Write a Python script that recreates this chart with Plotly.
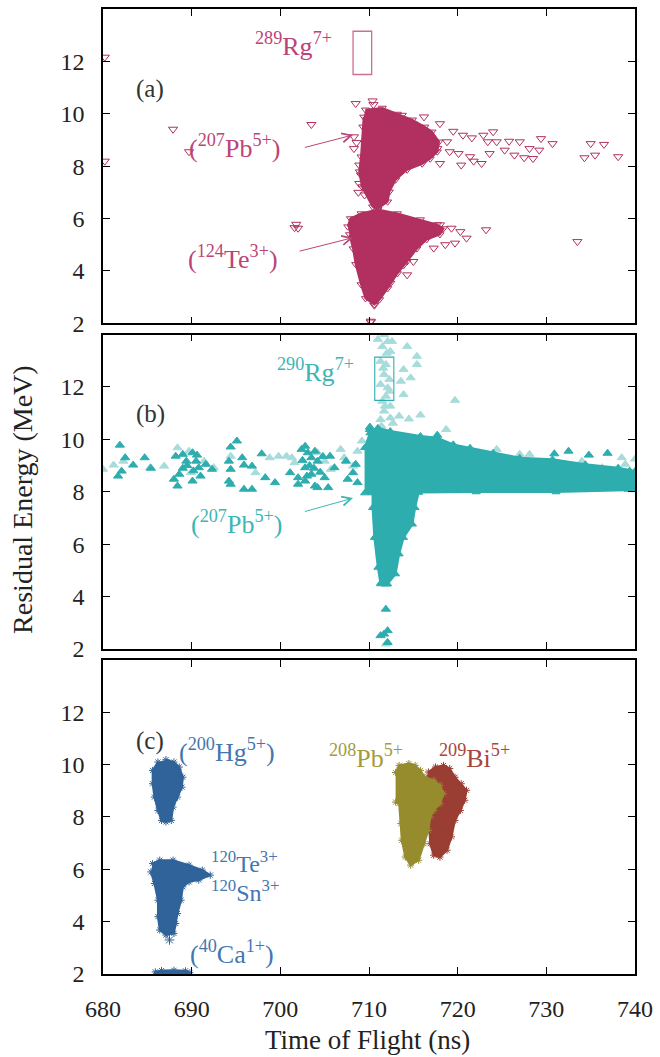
import plotly.graph_objects as go

# ---------------- data ----------------
x_ticks = [680, 690, 700, 710, 720, 730, 740]
y_ticks = [2, 4, 6, 8, 10, 12]

# Panel (a): 207Pb5+ dense cloud outline
a_pb_x = [709.6, 711.5, 713.2, 714.9, 716.3, 717.1, 717.9, 717.7, 716.9, 716.0, 714.3, 713.0,
          712.3, 712.1, 711.0, 710.4, 709.2, 708.9, 709.1, 709.3, 709.4]
a_pb_y = [10.15, 10.22, 9.99, 9.77, 9.50, 9.31, 8.93, 8.55, 8.28, 8.09, 7.86, 7.48,
          7.02, 6.64, 6.38, 6.45, 7.22, 7.79, 8.36, 9.50, 9.88]
# Panel (a): 124Te3+ dense cloud outline
a_te_x = [707.6, 707.9, 709.1, 711.0, 713.2, 715.8, 717.7, 718.4, 718.0, 716.5, 715.4, 714.3,
          713.2, 712.1, 711.2, 710.6, 709.6, 709.1, 708.5, 708.2, 707.8]
a_te_y = [5.69, 6.00, 6.19, 6.34, 6.19, 5.96, 5.77, 5.62, 5.39, 5.20, 4.85, 4.36,
          3.90, 3.33, 2.91, 2.72, 2.95, 3.48, 4.25, 4.85, 5.39]
# Panel (a): individual events
a_out_x = [680.2, 680.2, 687.9, 689.7, 703.5, 701.8, 702.0, 701.6, 708.5, 710.4, 710.5, 710.2,
           708.3, 708.3, 708.9, 709.1, 708.9, 709.5, 708.6, 708.8, 713.7, 716.2, 718.0, 719.5,
           720.6, 721.6, 724.0, 722.9, 723.4, 724.4, 725.8, 727.0, 728.1, 729.4, 730.7, 729.2,
           728.5, 727.5, 726.4, 725.3, 723.6, 722.7, 721.8, 720.4, 721.4, 720.1, 719.1, 718.0,
           718.8, 717.7, 717.1, 735.0, 736.5, 735.5, 734.3, 738.1, 718.0, 719.3, 720.3, 721.0,
           719.7, 718.6, 717.3, 723.2, 733.5, 715.0, 714.3, 712.4, 713.9, 710.6, 710.2]
a_out_y = [12.16, 8.19, 9.41, 8.55, 9.59, 5.78, 5.63, 5.65, 10.39, 10.49, 10.35, 2.08,
           9.12, 8.67, 8.04, 7.66, 7.34, 6.90, 8.90, 7.00, 9.94, 9.88, 9.62, 9.33,
           9.18, 9.08, 9.31, 9.18, 8.93, 8.93, 8.95, 8.93, 8.67, 9.05, 8.86, 8.61,
           8.29, 8.32, 8.42, 8.61, 8.48, 8.10, 8.19, 8.04, 8.36, 8.48, 8.55, 8.10,
           8.93, 8.67, 8.48, 8.86, 8.83, 8.42, 8.32, 8.36, 5.76, 5.63, 5.50, 5.25,
           5.06, 5.00, 4.87, 5.57, 5.12, 4.36, 3.85, 3.53, 4.23, 2.69, 2.05]
a_rg_box = [708.2, 710.3, 11.5, 13.15]

# Panel (b): 207Pb5+ dense band + stem outline
b_pb_x = [709.5, 710.1, 711.0, 712.4, 715.8, 717.7, 719.5, 721.4, 724.0, 727.0, 730.7, 734.4,
          738.1, 740.0, 740.0, 731.1, 722.1, 715.6, 715.2, 714.9, 713.9, 713.4, 713.0, 712.1,
          711.3, 711.0, 710.6, 710.4, 710.4, 709.5]
b_pb_y = [9.68, 10.24, 10.44, 10.32, 10.13, 10.06, 9.81, 9.68, 9.49, 9.30, 9.24, 9.05,
          8.92, 8.79, 8.07, 7.99, 7.99, 7.97, 7.39, 6.76, 6.25, 5.62, 4.86, 4.48,
          4.48, 5.11, 6.25, 7.39, 7.95, 7.95]
# Panel (b): dark events
b_dark_x = [681.9, 682.5, 683.4, 682.1, 681.7, 684.7, 685.4, 688.2, 689.0, 689.4, 690.1, 690.5,
            690.8, 691.0, 690.1, 688.4, 688.0, 688.6, 691.6, 692.3, 695.1, 694.4, 694.2, 694.4,
            695.7, 695.9, 694.2, 694.4, 695.9, 696.8, 696.8, 697.9, 698.3, 699.4, 701.1, 702.0,
            702.4, 702.8, 703.1, 703.5, 703.9, 704.2, 702.8, 703.5, 702.8, 703.9, 705.0, 705.4,
            705.6, 706.1, 707.4, 707.6, 708.2, 708.7, 708.5, 710.1, 702.0, 704.2, 703.3, 703.8,
            704.5, 702.5, 703.0, 704.8, 689.5, 690.2, 689.0, 690.6, 711.9, 711.7, 712.1, 711.3,
            712.1, 711.9, 711.4, 732.5, 730.9, 734.8, 736.9, 739.4, 738.1, 739.3, 737.8, 736.3,
            733.3, 730.7, 728.8, 739.3, 735.2, 717.7, 710.1]
b_dark_y = [9.78, 9.30, 9.02, 8.79, 8.60, 9.30, 8.90, 9.36, 9.43, 9.17, 9.49, 9.17,
            8.92, 8.60, 8.41, 8.22, 8.48, 8.67, 9.05, 8.86, 9.94, 9.71, 9.17, 8.86,
            9.30, 9.02, 8.41, 8.29, 8.10, 8.10, 8.98, 9.45, 8.54, 8.35, 8.73, 8.54,
            9.62, 9.74, 9.49, 9.30, 9.55, 9.17, 8.92, 8.67, 8.41, 8.22, 8.54, 8.16,
            9.36, 8.92, 9.17, 8.48, 8.73, 8.35, 9.05, 10.38, 8.29, 8.16, 9.00, 8.90,
            8.75, 9.20, 8.60, 9.35, 9.00, 8.80, 8.90, 9.40, 3.52, 2.57, 2.70, 2.51,
            2.25, 4.48, 4.53, 9.55, 9.45, 9.40, 9.47, 8.79, 8.67, 8.41, 8.54, 8.54,
            8.29, 8.16, 8.10, 8.10, 8.29, 10.16, 10.47]
# Panel (b): light events (other runs)
b_light_x = [711.7, 712.1, 711.5, 712.4, 711.3, 711.9, 711.7, 712.3, 711.3, 712.1, 711.9, 711.5,
             712.4, 711.7, 712.4, 711.3, 714.3, 715.4, 715.4, 713.9, 714.7, 713.6, 713.9, 719.7,
             715.8, 714.5, 713.4, 718.7, 711.9, 711.0, 712.6, 712.0, 711.6, 712.3, 711.8, 711.4,
             712.7, 724.4, 727.0, 728.1, 734.0, 735.2, 738.5, 738.9, 736.3, 740.0, 680.0, 681.2,
             682.3, 685.3, 686.9, 688.4, 689.7, 689.9, 691.4, 692.5, 694.4, 697.2, 698.8, 699.8,
             700.7, 701.3, 701.6, 704.2, 705.0, 706.8, 707.2, 708.2, 705.7, 708.7, 709.2]
b_light_y = [14.0, 13.74, 13.54, 13.36, 12.98, 12.86, 12.48, 12.29, 12.10, 11.97, 11.65, 11.46,
             11.27, 11.08, 10.82, 10.76, 13.55, 13.17, 12.86, 12.67, 12.35, 12.22, 11.71, 11.49,
             10.93, 10.78, 10.89, 10.38, 2.19, 13.82, 13.74, 13.29, 12.72, 11.84, 11.27, 10.51,
             10.62, 9.62, 9.43, 9.43, 9.17, 8.60, 9.30, 9.05, 8.92, 9.25, 8.86, 9.02,
             9.17, 8.92, 8.98, 9.68, 9.55, 8.73, 9.17, 8.92, 9.36, 8.73, 9.30, 9.36,
             9.36, 9.30, 9.11, 9.49, 9.17, 9.62, 9.30, 8.98, 8.86, 9.55, 9.94]
b_rg_box = [710.65, 712.8, 11.49, 13.14]

# Panel (c): calibration reactions
c_hg_x = [687.1, 688.0, 688.6, 689.0, 688.9, 688.4, 687.9, 687.7, 687.1, 686.6, 686.2, 685.8,
          685.6, 685.6, 686.2]
c_hg_y = [10.19, 10.10, 9.91, 9.52, 9.14, 8.76, 8.38, 7.87, 7.81, 7.87, 8.25, 8.76,
          9.27, 9.78, 10.10]
c_tesn_x = [685.6, 686.4, 687.9, 689.7, 691.2, 692.1, 690.8, 689.7, 689.0, 688.8, 688.4, 688.2,
            688.0, 687.1, 686.4, 686.2, 686.2, 685.8, 685.4]
c_tesn_y = [6.22, 6.35, 6.35, 6.16, 5.97, 5.78, 5.59, 5.52, 5.33, 4.82, 4.31, 3.93,
            3.55, 3.49, 3.68, 4.19, 4.82, 5.46, 5.90]
c_tesn_extra_x = [687.5]
c_tesn_extra_y = [3.30]
c_ca_x = [685.8, 685.9, 686.6, 688.0, 689.3, 689.8, 689.7]
c_ca_y = [1.90, 2.08, 2.13, 2.14, 2.12, 2.05, 1.90]
c_pb_x = [713.0, 713.4, 714.5, 715.2, 715.8, 716.3, 717.3, 718.0, 718.4, 718.0, 717.3, 716.9,
          716.7, 716.2, 715.6, 714.7, 714.1, 713.7, 713.6, 713.4, 713.0]
c_pb_y = [9.70, 9.97, 10.04, 9.97, 9.78, 9.52, 9.40, 9.21, 8.89, 8.51, 8.25, 8.00,
          7.49, 6.98, 6.35, 6.16, 6.47, 7.11, 7.75, 8.52, 8.57]
c_bi_x = [716.7, 717.5, 718.4, 719.1, 719.7, 720.4, 721.0, 720.8, 720.3, 719.7, 719.3, 718.8,
          718.0, 717.3, 716.9, 716.8, 716.9, 716.5, 716.3]
c_bi_y = [9.72, 9.91, 9.97, 9.85, 9.52, 9.27, 9.02, 8.64, 8.25, 7.87, 7.24, 6.73,
          6.47, 6.54, 6.98, 7.62, 8.06, 8.64, 9.40]

# ---------------- styles ----------------
FONT = "Liberation Serif, DejaVu Serif, serif"
C_A = "#B1305F"
C_A_TXT = "#BC4478"
C_B = "#2EADAF"
C_B_LIGHT = "#A8DCDB"
C_B_TXT = "#3DB6B6"
C_BLUE = "#2F6399"
C_BLUE_TXT = "#4377AE"
C_OLIVE = "#968C2E"
C_OLIVE_TXT = "#A39B3C"
C_RED = "#9A3D33"
C_RED_TXT = "#A8473C"
LBL = 26

fig = go.Figure()


def blob(x, y, color, xa, ya, symbol, msize=7):
    fig.add_trace(go.Scatter(
        x=x, y=y, xaxis=xa, yaxis=ya, mode="lines+markers", fill="toself",
        fillcolor=color, line=dict(color=color, width=2),
        marker=dict(symbol=symbol, size=msize, color=color, line=dict(color=color, width=1)),
        hoverinfo="skip", showlegend=False))


def pts(x, y, color, xa, ya, symbol, size=8):
    fig.add_trace(go.Scatter(
        x=x, y=y, xaxis=xa, yaxis=ya, mode="markers",
        marker=dict(symbol=symbol, size=size, color=color, line=dict(color=color, width=1)),
        hoverinfo="skip", showlegend=False))


# panel (a)
blob(a_pb_x, a_pb_y, C_A, "x", "y", "triangle-down-open")
blob(a_te_x, a_te_y, C_A, "x", "y", "triangle-down-open")
pts(a_out_x, a_out_y, C_A, "x", "y", "triangle-down-open", 8)

# panel (b)
pts(b_light_x, b_light_y, C_B_LIGHT, "x2", "y2", "triangle-up", 8)
blob(b_pb_x, b_pb_y, C_B, "x2", "y2", "triangle-up")
pts(b_dark_x, b_dark_y, C_B, "x2", "y2", "triangle-up", 8)

# panel (c)
blob(c_hg_x, c_hg_y, C_BLUE, "x3", "y3", "asterisk-open", 6)
blob(c_tesn_x, c_tesn_y, C_BLUE, "x3", "y3", "asterisk-open", 6)
pts(c_tesn_extra_x, c_tesn_extra_y, C_BLUE, "x3", "y3", "asterisk-open", 8)
blob(c_ca_x, c_ca_y, C_BLUE, "x3", "y3", "asterisk-open", 6)
blob(c_bi_x, c_bi_y, C_RED, "x3", "y3", "asterisk-open", 6)
blob(c_pb_x, c_pb_y, C_OLIVE, "x3", "y3", "asterisk-open", 6)

# ---------------- axes ----------------
doms = {1: [0.6743, 1.0], 2: [0.3368, 0.6626], 3: [0.0, 0.3254]}
axis_common = dict(showline=True, linecolor="black", linewidth=1.6, mirror="ticks",
                   ticks="inside", ticklen=7, tickwidth=1.3, tickcolor="black",
                   showgrid=False, zeroline=False,
                   tickfont=dict(family=FONT, size=24, color="#222"))
layout = {}
for i in (1, 2, 3):
    sx = "" if i == 1 else str(i)
    layout["xaxis" + sx] = dict(axis_common, range=[680, 740], tickvals=x_ticks,
                                domain=[0, 1], anchor="y" + sx,
                                showticklabels=(i == 3), ticklabelstandoff=12)
    layout["yaxis" + sx] = dict(axis_common, range=[2, 14], tickvals=y_ticks,
                                domain=doms[i], anchor="x" + sx, ticklabelstandoff=12)
fig.update_layout(**layout)

# ---------------- boxes ----------------
shapes = [
    dict(type="rect", xref="x", yref="y", x0=a_rg_box[0], x1=a_rg_box[1], y0=a_rg_box[2],
         y1=a_rg_box[3], line=dict(color="#CC6F95", width=1.3)),
    dict(type="rect", xref="x2", yref="y2", x0=b_rg_box[0], x1=b_rg_box[1], y0=b_rg_box[2],
         y1=b_rg_box[3], line=dict(color="#2EADAF", width=1.1)),
]

# ---------------- annotations ----------------
ann = []


def txt(text, x, y, xr, yr, color, xanchor="center", size=LBL):
    ann.append(dict(text=text, x=x, y=y, xref=xr, yref=yr, showarrow=False,
                    xanchor=xanchor, yanchor="middle",
                    font=dict(family=FONT, size=size, color=color)))


def arrow(x, y, ax, ay, xr, yr, color):
    ann.append(dict(text="", x=x, y=y, ax=ax, ay=ay, xref=xr, yref=yr, axref=xr, ayref=yr,
                    showarrow=True, arrowhead=5, arrowsize=1.8, arrowwidth=1.0,
                    arrowcolor=color, standoff=0, startstandoff=0))


txt("(a)", 685.3, 10.96, "x", "y", "#333", size=25)
txt("<sup>289</sup>Rg<sup>7+</sup>", 706.1, 12.64, "x", "y", C_A_TXT, "right")
txt("(<sup>207</sup>Pb<sup>5+</sup>)", 694.8, 8.76, "x", "y", C_A_TXT)
txt("(<sup>124</sup>Te<sup>3+</sup>)", 694.7, 4.53, "x", "y", C_A_TXT)
arrow(708.2, 9.19, 702.6, 8.70, "x", "y", C_A_TXT)
arrow(708.2, 5.27, 702.0, 4.74, "x", "y", C_A_TXT)

txt("(b)", 685.4, 10.98, "x2", "y2", "#333", size=25)
txt("<sup>290</sup>Rg<sup>7+</sup>", 708.5, 12.64, "x2", "y2", C_B_TXT, "right")
txt("(<sup>207</sup>Pb<sup>5+</sup>)", 695.0, 6.83, "x2", "y2", C_B_TXT)
arrow(708.2, 7.76, 702.6, 7.23, "x2", "y2", C_B_TXT)

txt("(c)", 685.3, 10.92, "x3", "y3", "#333", size=25)
txt("(<sup>200</sup>Hg<sup>5+</sup>)", 694.0, 10.54, "x3", "y3", C_BLUE_TXT)
txt("<sup>120</sup>Te<sup>3+</sup>", 692.0, 6.27, "x3", "y3", C_BLUE_TXT, "left", size=24)
txt("<sup>120</sup>Sn<sup>3+</sup>", 692.0, 5.17, "x3", "y3", C_BLUE_TXT, "left", size=24)
txt("(<sup>40</sup>Ca<sup>1+</sup>)", 694.5, 2.82, "x3", "y3", C_BLUE_TXT)
txt("<sup>208</sup>Pb<sup>5+</sup>", 709.7, 10.31, "x3", "y3", C_OLIVE_TXT)
txt("<sup>209</sup>Bi<sup>5+</sup>", 721.9, 10.31, "x3", "y3", C_RED_TXT)

# axis titles
ann.append(dict(text="Residual Energy (MeV)", x=-0.151, y=0.492, xref="paper", yref="paper",
                showarrow=False, textangle=-90, xanchor="center", yanchor="middle",
                font=dict(family=FONT, size=28, color="#222")))
ann.append(dict(text="Time of Flight (ns)", x=0.497, y=-0.068, xref="paper", yref="paper",
                showarrow=False, xanchor="center", yanchor="middle",
                font=dict(family=FONT, size=27, color="#222")))

fig.update_layout(
    width=660, height=1057,
    margin=dict(l=103, r=20, t=7, b=83),
    paper_bgcolor="white", plot_bgcolor="white",
    shapes=shapes, annotations=ann, showlegend=False,
    font=dict(family=FONT),
)

fig.write_html("out.html", config={"displayModeBar": False},
               post_script="document.body.style.margin='0px';document.body.style.padding='0px';")
